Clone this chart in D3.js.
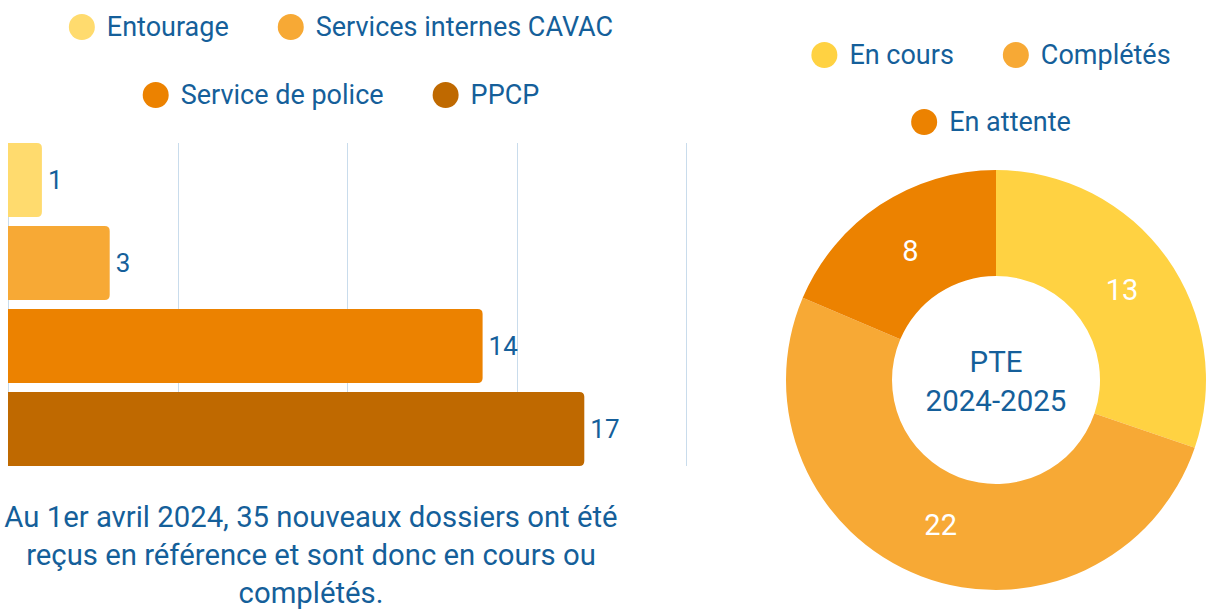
<!DOCTYPE html>
<meta charset="utf-8">
<style>
    body { margin: 0; background: #fff; }
    svg { display: block; font-family: Roboto, "Noto Sans", sans-serif; }
    .grid line { stroke: #c9dcec; stroke-width: 1; shape-rendering: crispEdges; }
    .grid path { display: none; }
</style>
<body>
<svg id="chart" width="1209" height="610"></svg>
<script src="https://cdnjs.cloudflare.com/ajax/libs/d3/7.8.5/d3.min.js"></script>
<script>
    // bar chart data (sources of referral)
    var barCategories = ["Entourage", "Services internes CAVAC", "Service de police", "PPCP"];
    var barValues = [1, 3, 14, 17];
    var barColors = ["#ffdb6e", "#f7a935", "#ec8200", "#bf6900"];
    var xTicks = [0, 5, 10, 15, 20];

    // donut data (file status)
    var donutCategories = ["En cours", "Complétés", "En attente"];
    var donutValues = [13, 22, 8];
    var donutColors = ["#ffd242", "#f7a935", "#ec8200"];
    var donutTitle = ["PTE", "2024-2025"];

    var noteLines = [
        "Au 1er avril 2024, 35 nouveaux dossiers ont été",
        "reçus en référence et sont donc en cours ou",
        "complétés."
    ];

    var textColor = "#155f9a";
    var svg = d3.select("#chart");

    // ---- bar chart ----
    var x = d3.scaleLinear().domain([0, 20]).range([8, 686]);
    var y = d3.scaleBand().domain(barCategories).range([143, 466]).paddingInner(0.11).paddingOuter(0);

    svg.append("g")
        .attr("class", "grid")
        .attr("transform", "translate(0,143)")
        .call(d3.axisBottom(x).tickValues(xTicks).tickSize(466 - 143).tickFormat(""));

    // bars: square on the left, rounded on the right
    function barPath(x0, y0, w, h, r) {
        return "M" + x0 + "," + y0 +
            "H" + (x0 + w - r) +
            "Q" + (x0 + w) + "," + y0 + " " + (x0 + w) + "," + (y0 + r) +
            "V" + (y0 + h - r) +
            "Q" + (x0 + w) + "," + (y0 + h) + " " + (x0 + w - r) + "," + (y0 + h) +
            "H" + x0 + "Z";
    }

    var bars = svg.append("g");
    bars.selectAll("path")
        .data(barValues)
        .enter().append("path")
        .attr("d", function(d, i) {
            return barPath(x(0), y(barCategories[i]), x(d) - x(0), y.bandwidth(), 5);
        })
        .attr("fill", function(d, i) { return barColors[i]; });

    bars.selectAll("text")
        .data(barValues)
        .enter().append("text")
        .attr("x", function(d) { return x(d) + 6; })
        .attr("y", function(d, i) { return y(barCategories[i]) + y.bandwidth() / 2; })
        .attr("dy", "0.35em")
        .attr("fill", textColor)
        .attr("font-size", 26)
        .text(function(d) { return d; });

    // legend helper: rows of circle + label, centered on cx
    function legend(items, colors, rows, cx, gap) {
        var g = svg.append("g").attr("font-size", 27).attr("fill", textColor);
        rows.forEach(function(row) {
            var rowG = g.append("g");
            var offset = 0;
            row.idx.forEach(function(i, k) {
                var item = rowG.append("g").attr("transform", "translate(" + offset + ",0)");
                item.append("circle").attr("cx", 13).attr("cy", 0).attr("r", 13).attr("fill", colors[i]);
                var t = item.append("text").attr("x", 38).attr("dy", "0.35em").text(items[i]);
                offset += 38 + t.node().getComputedTextLength() + (k < row.idx.length - 1 ? gap : 0);
            });
            rowG.attr("transform", "translate(" + (cx - offset / 2) + "," + row.y + ")");
        });
    }

    legend(barCategories, barColors, [{ idx: [0, 1], y: 27 }, { idx: [2, 3], y: 95 }], 341, 49);
    legend(donutCategories, donutColors, [{ idx: [0, 1], y: 55 }, { idx: [2], y: 122 }], 991, 49);

    // note under the bar chart
    svg.append("text")
        .attr("text-anchor", "middle")
        .attr("font-size", 29.3)
        .attr("fill", textColor)
        .selectAll("tspan")
        .data(noteLines)
        .enter().append("tspan")
        .attr("x", 311)
        .attr("y", function(d, i) { return 527 + i * 38; })
        .text(function(d) { return d; });

    // ---- donut ----
    var pie = d3.pie().sort(null).value(function(d) { return d; });
    var arc = d3.arc().innerRadius(104).outerRadius(210);
    var labelArc = d3.arc().innerRadius(155).outerRadius(155);
    var donut = svg.append("g").attr("transform", "translate(996,380)");
    var arcs = pie(donutValues);

    donut.selectAll("path")
        .data(arcs)
        .enter().append("path")
        .attr("d", arc)
        .attr("fill", function(d, i) { return donutColors[i]; });

    donut.selectAll("text.val")
        .data(arcs)
        .enter().append("text")
        .attr("class", "val")
        .attr("transform", function(d) { return "translate(" + labelArc.centroid(d) + ")"; })
        .attr("text-anchor", "middle")
        .attr("dy", "0.35em")
        .attr("font-size", 29)
        .attr("fill", "#fff")
        .text(function(d) { return d.data; });

    donut.append("text")
        .attr("text-anchor", "middle")
        .attr("font-size", 29.5)
        .attr("fill", textColor)
        .selectAll("tspan")
        .data(donutTitle)
        .enter().append("tspan")
        .attr("x", 0)
        .attr("y", function(d, i) { return -8 + i * 39; })
        .text(function(d) { return d; });
</script>
</body>
